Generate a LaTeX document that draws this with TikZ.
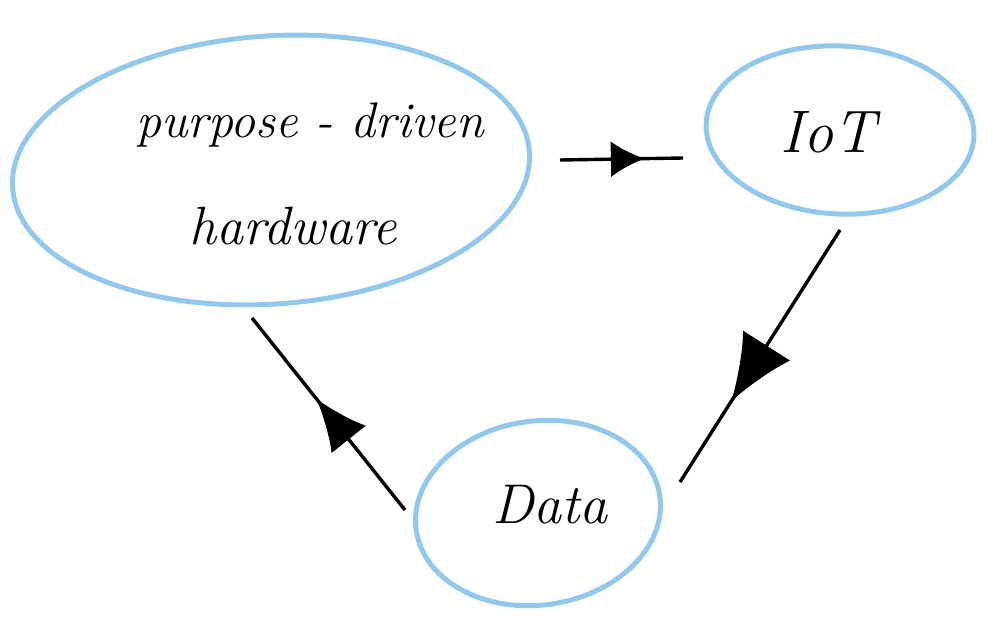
\documentclass[tikz,border=0pt]{standalone}
\usepackage{fontspec}
\usetikzlibrary{arrows.meta,decorations.markings,shapes.geometric}
\definecolor{ovalblue}{RGB}{146,200,236}
\begin{document}
\begin{tikzpicture}[x=1pt,y=-1pt,
  oval/.style={draw=ovalblue,line width=5pt,ellipse,inner sep=0pt},
  hand/.style={font=\fontsize{#1}{#1}\selectfont\itshape},
  link/.style={line width=3.4pt,draw=black},
  midtip/.style n args={3}{postaction={decorate},decoration={markings,
     mark=at position #1 with {\arrow{Latex[length=#2pt,width=#3pt]}}}}]
\useasboundingbox (0,0) rectangle (1000,635);
% ellipses
\node[oval,minimum width=518pt,minimum height=268pt,rotate=4] (hw) at (271,170) {};
\node[oval,minimum width=268pt,minimum height=168pt,rotate=-3] (iot) at (840,130) {};
\node[oval,minimum width=246pt,minimum height=184pt,rotate=8] (data) at (538,513) {};
% labels
\node[hand=50] (t1) at (310,125) {purpose - driven};
\node[hand=54] (t2) at (293,226) {hardware};
\node[hand=60] (t3) at (828,132) {IoT};
\node[hand=56] (t4) at (550,505) {Data};
% connector ends
\coordinate (a1) at (560,160);
\coordinate (a2) at (683,158);
\coordinate (b1) at (840,230);
\coordinate (b2) at (680,482);
\coordinate (c1) at (405,510);
\coordinate (c2) at (252,318);
\draw[link,midtip={0.69}{34}{36}] (a1) -- (a2);
\draw[link,midtip={0.68}{66}{56}] (b1) -- (b2);
\draw[link,midtip={0.58}{52}{44}] (c1) -- (c2);
\end{tikzpicture}
\end{document}
